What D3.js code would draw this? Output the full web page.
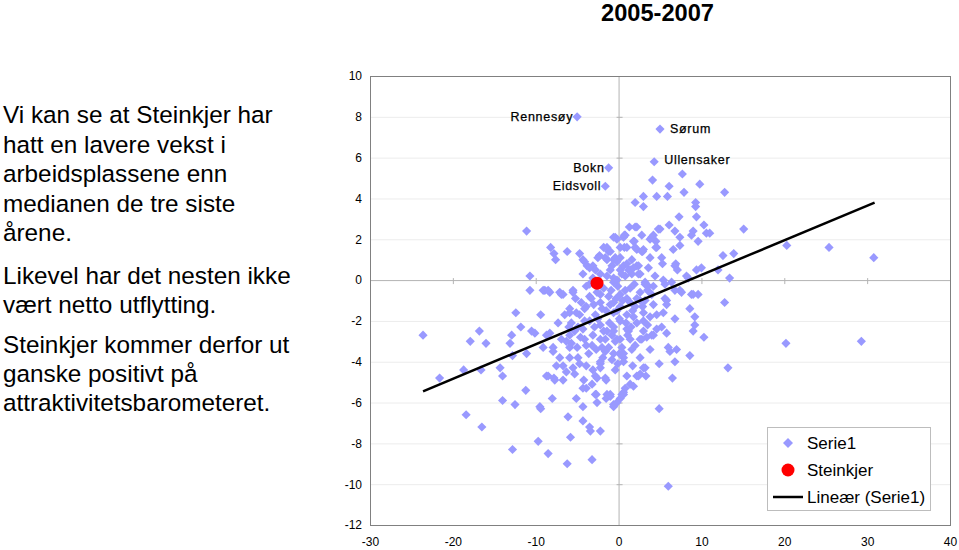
<!DOCTYPE html>
<html><head><meta charset="utf-8">
<script src="https://cdn.jsdelivr.net/npm/d3@7"></script>
<style>
body{margin:0;background:#fff;}
svg{display:block;font-family:"Liberation Sans",Arial,sans-serif;}
</style></head><body>
<svg id="c" width="959" height="550"></svg>
<script>
const titleText = "2005-2007";
const paragraphs = [
  ["Vi kan se at Steinkjer har","hatt en lavere vekst i","arbeidsplassene enn","medianen de tre siste","årene."],
  ["Likevel har det nesten ikke","vært netto utflytting."],
  ["Steinkjer kommer derfor ut","ganske positivt på","attraktivitetsbarometeret."]
];
const xTicks = [-30,-20,-10,0,10,20,30,40];
const yTicks = [-12,-10,-8,-6,-4,-2,0,2,4,6,8,10];

const serie = [
[-23.6,-2.7],[-21.6,-4.8],[-18.7,-4.4],[-18.4,-6.6],[-17.9,-3.0],[-16.8,-2.5],[-16.6,-4.4],[-16.5,-7.2],[-16.0,-3.1],[-14.3,-4.3],[-14.0,-4.7],[-14.0,-5.9],[-13.1,-3.1],[-12.9,-2.7],[-12.8,-3.7],[-12.8,-8.3],[-12.5,-6.1],[-12.4,-1.6],[-11.8,-2.3],[-11.2,-5.4],[-11.1,-3.6],[-10.7,-0.5],[-10.5,-2.5],[-10.1,-2.6],[-9.7,-7.9],[-9.5,-6.2],[-9.4,-6.3],[-9.4,-1.7],[-8.9,-0.5],[-8.7,-2.7],[-8.5,-8.5],[-8.3,-0.6],[-8.5,-4.7],[-8.0,-5.8],[-7.9,-3.3],[-7.8,-4.8],[-7.5,-4.2],[-7.3,-2.1],[-7.1,-0.6],[-6.9,-2.9],[-6.7,-4.9],[-6.7,-0.7],[-6.2,-9.0],[-6.1,-6.7],[-5.9,-3.3],[-5.8,-7.7],[-5.9,-1.6],[-5.5,-0.6],[-5.5,-4.3],[-5.3,-4.6],[-5.1,-5.8],[-4.9,-3.8],[-4.9,-2.3],[-4.3,-6.2],[-4.3,-6.9],[-4.2,-4.9],[-4.1,-2.9],[-3.9,-5.3],[-3.9,-1.3],[-3.5,-7.2],[-3.4,-7.4],[-3.2,-8.8],[-3.2,-3.2],[-3.1,-4.4],[-2.8,-4.7],[-2.7,-5.6],[-2.6,-6.0],[-2.5,-1.9],[-2.2,-4.1],[-2.2,-7.4],[-2.2,-0.7],[-1.8,-2.5],[-1.6,-4.8],[-1.5,-5.8],[-1.2,-3.3],[-1.0,-5.6],[-0.8,-3.9],[-0.6,-6.1],[-0.6,-1.6],[-0.4,-4.4],[-0.2,-2.9],[-0.2,-6.0],[0.1,-3.6],[0.2,-5.8],[0.4,-5.6],[0.6,-3.8],[0.8,-5.3],[1.0,-4.7],[1.2,-2.5],[1.4,-5.1],[1.8,-5.2],[2.2,-4.7],[2.8,-2.9],[3.2,-4.3],[3.3,-4.7],
[-11.1,2.4],[-8.2,1.6],[-7.8,1.3],[-7.6,1.0],[-6.2,1.4],[-4.7,1.3],[-4.3,1.0],[-4.1,0.9],[-3.8,0.7],[-3.5,0.6],[-10.7,0.2],[-2.3,1.2],[-1.8,1.6],[-1.2,1.4],[-0.6,2.1],[-0.2,2.0],[0.8,2.2],[1.3,2.6],[2.0,2.6],[1.9,1.9],[3.0,1.5],[2.0,3.8],[3.0,4.1],[3.0,3.6],[-1.4,1.0],[-0.8,0.7],[-0.2,0.9],[0.2,0.5],[0.6,0.7],[1.2,0.5],[1.6,1.0],[2.2,0.7],[2.6,0.3],[-0.2,0.0],[0.8,0.2],[-2.2,0.3],[-3.1,0.1],[-4.3,0.3],[-3.9,-0.3],[-9.1,-0.5],[-8.5,-0.5],[-6.9,-0.7],[-5.5,-0.5],
[7.7,5.2],[4.1,4.9],[6.1,4.6],[9.8,4.7],[7.9,4.3],[12.8,4.3],[4.6,4.1],[5.9,4.1],[9.3,3.8],[9.3,3.6],[7.3,3.1],[9.4,3.1],[5.0,2.5],[6.1,2.7],[10.3,2.7],[15.1,2.5],[-0.4,2.1],[0.7,2.2],[4.2,2.2],[6.8,2.4],[9.0,2.4],[10.6,2.3],[11.0,2.3],[1.8,1.9],[3.8,2.0],[4.5,1.9],[7.4,2.1],[8.8,2.2],[9.6,1.9],[-1.4,1.6],[0.7,1.6],[2.2,1.5],[2.9,1.4],[4.5,1.6],[6.6,1.5],[7.4,1.7],[20.3,1.7],[25.4,1.6],[30.8,1.1],[13.9,1.3],[12.6,1.2],[5.2,1.1],[5.3,0.8],[6.9,0.8],[7.1,0.5],[9.4,0.5],[10.0,0.6],[12.0,0.5],[13.4,0.1],[8.4,0.1],[3.6,0.6],[2.4,0.7],[1.0,0.8],[0.2,1.1],[-0.6,1.0],[1.6,0.3],[3.2,-0.1],[4.2,-0.3],[5.4,0.0],[6.4,-0.1],[7.4,-0.5],[9.0,-0.7],[9.6,-0.7],[12.8,-1.1],[-0.6,0.1],
[8.8,-0.7],[8.6,-1.4],[9.2,-1.8],[9.0,-2.5],[10.3,-2.8],[8.6,-3.7],[20.2,-3.1],[29.3,-3.0],[13.2,-4.3],[6.8,-1.9],[6.2,-3.5],[7.0,-3.4],[6.8,-4.0],[6.5,-4.8],[4.9,-4.1],[5.8,-2.6],[5.2,-2.3],[4.2,-2.7],[3.0,-2.5],[2.6,-4.6],[0.6,-5.6],[-0.6,-6.2],[-1.5,-4.9],[0.6,-4.0],[0.6,-3.6],[-0.6,-3.6],[-1.6,-3.5],[4.9,-6.3],[6.0,-10.1],[-1.0,-5.7],[0.2,-2.9],[1.4,-2.9],[2.6,-2.9],[3.8,-1.8],[4.6,-2.4],[1.8,-1.8],[0.2,-2.0],[-0.6,-2.3],[-1.4,-2.5],[-0.4,-3.0],[3.0,-2.0],[5.4,-1.6],[4.2,-1.2],[2.6,-1.0],[1.0,-0.9],[5.8,-1.0],[6.8,-0.5],[6.0,-3.3],
[2.2,2.6],[0.6,2.1],[4.0,2.1],[4.8,2.5],[-1.0,1.4],[1.0,1.6],[2.0,1.6],[2.8,1.4],[4.6,1.6],[-2.5,1.1],[-1.6,1.1],[-0.4,1.1],[-3.1,0.7],[-3.5,-0.2],[-1.4,0.2],[-0.6,-0.1],[-1.2,-0.8],[1.4,0.5],[2.4,0.3],[4.4,0.2],[3.2,-0.2],[1.4,-0.4],[0.2,-0.7],[-0.6,-1.1],[-2.2,-1.1],[-3.5,-0.8],[-4.1,-1.4],[-2.8,-1.7],[-4.7,-1.7],[2.2,-0.9],[4.0,-0.7],[4.6,-1.7],[3.0,-1.6],[1.0,-1.7],[-2.2,-2.2],
[-6.5,-1.7],[-5.9,-1.4],[-5.1,-1.6],[-5.7,-2.1],
[-8.3,-2.6],[-5.9,-2.7],[-5.7,-3.1],[-9.1,-3.3],[-7.9,-3.5],[-7.1,-3.8],[-5.9,-3.8],[-6.7,-4.2],[-6.3,-4.5],[-8.7,-4.7],[-7.7,-4.9],
[-4.3,-2.4],[-3.1,-2.7],[-2.2,-2.9],[-0.6,-2.5],[1.0,-2.4],[4.0,-2.7],[-3.9,-3.2],[-2.0,-3.3],[-4.7,-4.1],[-3.9,-4.2],[-2.2,-4.0],[-2.2,-4.3],[3.0,-4.3],[2.4,-4.7],[-2.6,-4.8],[-4.3,-5.3],[-3.2,-5.1],[-2.8,-5.6],[-1.4,-5.6],[0.6,-5.5],
[6.8,0.7],[8.2,0.2],[5.6,-0.2],[7.6,-0.6],[5.6,-0.9],[5.8,-1.2],[9.2,-2.2],
[-2.6,-0.6],[-1.8,-0.4],[-0.9,-0.5],[-0.1,-0.3],[0.8,-0.5],[1.9,-0.2],[2.6,-0.6],[3.5,-0.5],[-3.0,-1.2],[-1.5,-1.5],[0.2,-1.3],[1.4,-1.1],[3.2,-1.0],[1.7,-1.5],[0.1,-1.9],[-1.1,-2.1],[2.2,-2.1],[3.5,-2.2],[-3.5,-2.0],[1.1,-2.7],[-1.6,-2.9],[-2.7,-3.4],[1.6,-3.4],[2.6,-3.8],[3.8,-3.4],[-4.1,-2.0],[-5.3,-2.5],
[-3.3,-0.9],[-2.0,-1.4],[-0.3,-0.9],[0.5,-1.0],[2.0,-1.3],[2.9,-1.3],[-1.0,-1.2],[-0.2,-1.5],[0.9,-2.1],[1.5,-2.3],[-0.8,-2.7],[-2.9,-2.3],[-4.6,-2.8],[-3.6,-3.6],[-5.0,-3.3],[-6.3,-3.0],[-4.5,-1.1],[-5.2,-0.9],[-6.0,-2.3],[0.4,-3.3],[2.0,-3.2],[3.4,-2.8],[-1.9,-3.8],[-0.1,-4.1],[1.7,-4.2],[0.4,0.3],[1.8,0.6],[-1.0,0.5],[-2.8,0.5],[3.8,1.1],[3.6,-0.3],[2.8,2.2],[0.2,1.6]
];
const labelNames = ["Rennesøy","Bokn","Eidsvoll","Sørum","Ullensaker"];
const labelX = [-5.0,-1.2,-1.6,5.0,4.3];
const labelY = [8.0,5.5,4.6,7.4,5.8];
const labelSide = ["left","left","left","right","right"];
const steinkjer = [-2.6,-0.15];
const trendX = [-23.6,30.9];
const trendY = [-5.45,3.8];
const legendItems = ["Serie1","Steinkjer","Lineær (Serie1)"];

const svg = d3.select("#c");
const L=370, R=950, T=76, B=525;
const x = d3.scaleLinear().domain([-30,40]).range([L,R]);
const y = d3.scaleLinear().domain([-12,10]).range([B,T]);

// title
svg.append("text").attr("x",601).attr("y",21).attr("font-size",24).attr("font-weight","bold")
  .attr("textLength",113).attr("lengthAdjust","spacingAndGlyphs").text(titleText);

// left text
const baselines = [[123,153,182,212,241],[284,313],[353,382,411]];
paragraphs.forEach((p,i)=>p.forEach((line,j)=>{
  svg.append("text").attr("x",3).attr("y",baselines[i][j]).attr("font-size",24.3).attr("fill","#000").text(line);
}));

// gridlines
svg.append("g").selectAll("line").data(yTicks.filter(v=>v>-12&&v<10&&v!==0)).join("line")
  .attr("x1",L).attr("x2",R).attr("y1",d=>y(d)+0.5).attr("y2",d=>y(d)+0.5)
  .attr("stroke","#ececec").attr("stroke-width",1);

// axis lines through origin
svg.append("line").attr("x1",L).attr("x2",R).attr("y1",y(0)+0.5).attr("y2",y(0)+0.5).attr("stroke","#b4b4b4");
svg.append("line").attr("x1",x(0)+0.5).attr("x2",x(0)+0.5).attr("y1",T).attr("y2",B).attr("stroke","#b4b4b4");
svg.append("g").selectAll("line").data(xTicks.filter(v=>v>-30&&v<40)).join("line")
  .attr("x1",d=>x(d)+0.5).attr("x2",d=>x(d)+0.5).attr("y1",y(0)-2).attr("y2",y(0)+4).attr("stroke","#b4b4b4");
svg.append("g").selectAll("line").data(yTicks.filter(v=>v>-12&&v<10)).join("line")
  .attr("x1",x(0)-2).attr("x2",x(0)+4).attr("y1",d=>y(d)+0.5).attr("y2",d=>y(d)+0.5).attr("stroke","#b4b4b4");

// plot border
svg.append("rect").attr("x",L+0.5).attr("y",T+0.5).attr("width",R-L).attr("height",B-T)
  .attr("fill","none").attr("stroke","#808080");

// tick labels via axes
const fmt = d => String(d);
const ya = svg.append("g").attr("transform",`translate(${L},0)`)
  .call(d3.axisLeft(y).tickValues(yTicks).tickFormat(fmt).tickSize(0).tickPadding(8));
const xa = svg.append("g").attr("transform",`translate(0,${B})`)
  .call(d3.axisBottom(x).tickValues(xTicks).tickFormat(fmt).tickSize(0).tickPadding(12));
[ya,xa].forEach(a=>{a.select(".domain").remove();
  a.selectAll("text").attr("font-size",12).attr("fill","#000").attr("font-family","Liberation Sans, Arial, sans-serif");});

// points
const diamond = d3.symbol(d3.symbolSquare, 42)();
svg.append("g").selectAll("path").data(serie).join("path")
  .attr("d",diamond).attr("fill","#9999ff")
  .attr("transform",d=>`translate(${x(d[0])},${y(d[1])}) rotate(45)`);
svg.append("g").selectAll("path").data(labelNames).join("path")
  .attr("d",diamond).attr("fill","#9999ff")
  .attr("transform",(d,i)=>`translate(${x(labelX[i])},${y(labelY[i])}) rotate(45)`);

// trend line
svg.append("line").attr("x1",x(trendX[0])).attr("y1",y(trendY[0])).attr("x2",x(trendX[1])).attr("y2",y(trendY[1]))
  .attr("stroke","#000").attr("stroke-width",2.5);

// Steinkjer
svg.append("circle").attr("cx",x(steinkjer[0])).attr("cy",y(steinkjer[1])).attr("r",6.5).attr("fill","#ff0000");

// labels
svg.append("g").selectAll("text").data(labelNames).join("text")
  .attr("x",(d,i)=>x(labelX[i]) + (labelSide[i]==="left"?-4:10))
  .attr("y",(d,i)=>y(labelY[i]) + (d==="Ullensaker"? 2 : 4))
  .attr("text-anchor",(d,i)=>labelSide[i]==="left"?"end":"start")
  .attr("font-size",12.5).attr("letter-spacing",0.7).attr("fill","#000")
  .attr("stroke","#000").attr("stroke-width",0.25).text(d=>d);

// legend
const lg = svg.append("g");
lg.append("rect").attr("x",767.5).attr("y",427.5).attr("width",163).attr("height",83).attr("fill","#fff").attr("stroke","#bdbdbd");
lg.append("path").attr("d",d3.symbol(d3.symbolSquare,50)()).attr("fill","#9999ff").attr("transform","translate(788,443) rotate(45)");
lg.append("circle").attr("cx",788).attr("cy",470).attr("r",6.5).attr("fill","#ff0000");
lg.append("line").attr("x1",773).attr("x2",803).attr("y1",497).attr("y2",497).attr("stroke","#000").attr("stroke-width",2.5);
lg.selectAll("text").data(legendItems).join("text").attr("x",807).attr("y",(d,i)=>449+i*27)
  .attr("font-size",17).attr("fill","#000").text(d=>d);
</script>
</body></html>
